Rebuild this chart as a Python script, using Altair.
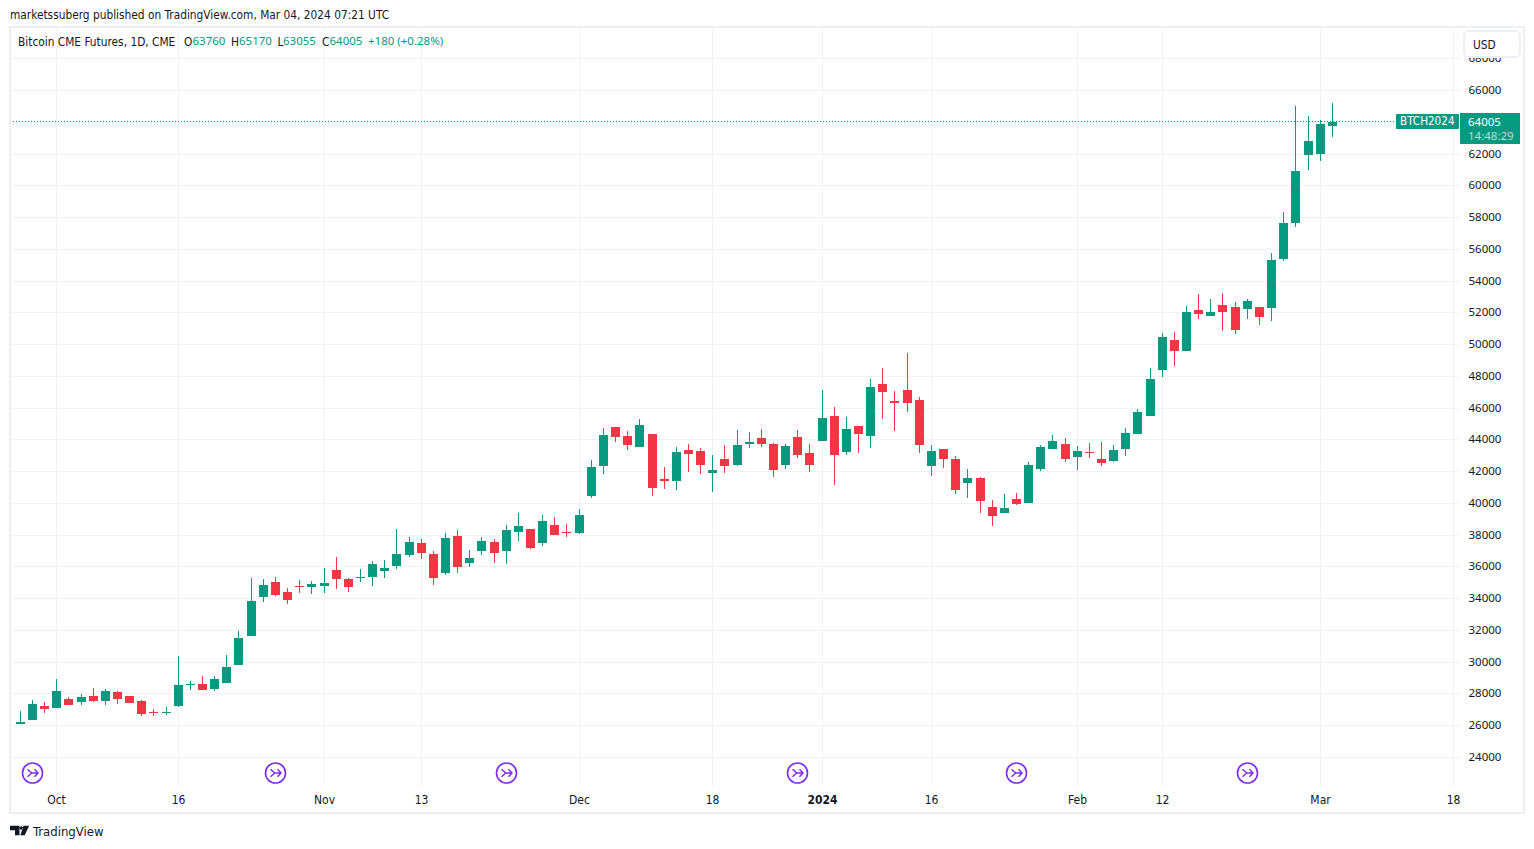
import altair as alt
import pandas as pd

FONT = "DejaVu Sans Condensed"
NUM_FONT = "Noto Sans"
GREEN = "#089981"
RED = "#F23645"
INK = "#131722"

bar_index = list(range(-1, 109))
opens = [26290,26102,26354,27236,27110,27677,27488,27866,27551,28118,27866,27551,26816,26795,27236,28559,28622,28307,28685,29819,31646,34103,35048,34418,34796,34733,34796,35804,35237,35300,35363,35741,36056,36749,37505,36812,35615,37946,36245,37001,37568,36998,38195,38384,37502,38636,38195,38132,40463,42353,44810,44243,43550,44369,41534,41408,43361,43298,41912,42794,42416,43737,44115,43737,42414,44178,43170,43926,45501,43233,44871,44241,47517,46446,47139,46509,42351,43422,42792,41280,41595,39768,39390,40272,40020,42162,43422,43737,42918,43233,42792,42666,43422,44367,45501,48391,50281,49588,52171,51793,52486,52360,52234,52360,52297,55384,57652,61936,61999,63760]
highs = [26300,26921,27614,27488,28937,27803,27992,28370,28307,28181,27866,27614,27047,27173,30386,28811,29126,29126,30449,31961,35300,35237,35363,34670,35174,35111,35930,36623,35300,35867,36371,36434,38387,37883,37757,37001,38135,38324,37064,37883,37757,38636,39392,38384,39266,39140,38699,39644,42731,44747,44810,44558,45314,44369,42290,43550,43739,43487,43046,43676,44621,44493,44682,43800,43737,44619,43737,47139,46068,45438,44871,47832,48525,47076,49470,46698,43674,43422,42981,42162,41658,40209,40587,40650,42603,43674,44304,44115,43611,43800,43863,43674,44745,45942,48525,50722,50785,52423,53179,52864,53242,52675,52864,52360,55762,58345,65023,64393,64141,65170]
lows = [26260,26102,26354,26795,27110,27299,27299,27488,27299,27362,27425,26606,26606,26669,27173,28244,28244,28181,28685,29819,31646,33788,34166,33662,34355,34292,34355,34607,34418,35048,34796,35300,35867,36623,36497,34859,35489,35615,35993,36749,36245,36179,37628,37124,37313,38006,37880,38069,40337,41849,43865,43361,43550,40463,40904,40841,41975,41849,40715,41912,42353,43485,43548,41658,42162,42855,41973,43926,41154,43044,43170,43485,45312,44556,45753,43170,41721,42225,40587,40335,39390,38571,39390,39894,40020,42036,43422,42603,42099,42855,42351,42603,42981,44367,45501,47950,48643,49588,51604,51793,50848,50659,51604,51226,51478,55258,57400,60991,61558,63055]
closes = [26270,26228,27362,27047,28181,27299,27803,27551,28181,27677,27425,26732,26753,26858,28559,28622,28244,28937,29693,31520,33851,34859,34229,33914,34733,34922,34985,35237,34733,35363,36182,35930,36812,37568,36875,35300,37820,35993,36560,37631,36875,38321,38573,37187,38888,38006,38132,39266,42290,44306,44180,43676,44936,40967,41408,43235,43109,42416,42101,42353,43676,43863,43737,42099,43611,43044,42414,45375,43044,44682,44367,47328,47013,46320,46320,43674,43296,42792,40839,41595,40146,39201,39705,39957,42414,43548,43926,42792,43296,43170,42540,43359,44430,45753,47832,50470,49588,52045,51919,52045,52045,50911,52738,51730,55321,57652,60928,62818,63889,64005]

tick_values = [3, 13, 25, 33, 46, 57, 66, 75, 87, 94, 107, 118]
tick_labels = ["Oct", "16", "Nov", "13", "Dec", "18", "2024", "16", "Feb", "12", "Mar", "18"]
price_ticks = list(range(24000, 70000, 2000))
event_index = [1, 21, 40, 64, 82, 101]
last_price = 64005

df = pd.DataFrame({"i": bar_index, "o": opens, "h": highs, "l": lows, "c": closes})
df["top"] = df[["o", "c"]].max(axis=1)
df["bot"] = df[["o", "c"]].min(axis=1)

xscale = alt.Scale(domain=[-0.807, 118.471], nice=False, zero=False, round=True)
yscale = alt.Scale(domain=[22174, 69967], nice=False, zero=False, round=True)

label_expr = "{" + ",".join(f"'{v}':'{t}'" for v, t in zip(tick_values, tick_labels)) + "}[datum.value]"
x_axis = alt.Axis(values=tick_values, labelExpr=label_expr, title=None, domain=False, ticks=False,
                  grid=True, gridColor="#f2f2f3", gridWidth=1, labelColor=INK, labelFont=FONT,
                  labelFontSize=12, labelPadding=8, labelOverlap=False, labelFlush=False,
                  labelFontWeight={"expr": "datum.value == 66 ? 'bold' : 'normal'"})
y_axis = alt.Axis(values=price_ticks, format="d", title=None, orient="right", domain=False, ticks=False,
                  grid=True, gridColor="#f2f2f3", gridWidth=1, labelColor=INK, labelFont=NUM_FONT,
                  labelFontSize=11.5, labelPadding=9, labelOverlap=False)

X = alt.X("i:Q", scale=xscale, axis=x_axis)
color = alt.condition("datum.c >= datum.o", alt.value(GREEN), alt.value(RED))
base = alt.Chart(df)
wicks = base.mark_rule(strokeWidth=1, clip=True, xOffset=0.5).encode(
    x=X, y=alt.Y("l:Q", scale=yscale, axis=y_axis), y2="h:Q", color=color)
bodies = base.mark_rule(strokeWidth=9, clip=True, xOffset=0.5).encode(
    x=X, y=alt.Y("bot:Q", scale=yscale, axis=y_axis), y2="top:Q", color=color)

one = alt.Data(values=[{"k": 1}])


def label(text, x, y, col=INK, size=11.8, font=FONT):
    return alt.Chart(one).mark_text(text=text, align="left", baseline="middle", font=font, fontSize=size,
                                    color=col).encode(
        x=alt.value(x - 10), y=alt.value(y - 27))


def num(text, x, y, col=GREEN):
    return label(text, x, y, col=col, size=11.5, font=NUM_FONT)


def box(x0, y0, x1, y1, fill=None, stroke=None, radius=0, width=1):
    kw = {"fill": fill if fill else "transparent", "cornerRadius": radius}
    if stroke:
        kw.update(stroke=stroke, strokeWidth=width)
    return alt.Chart(one).mark_rect(**kw).encode(
        x=alt.value(x0 - 10), x2=alt.value(x1 - 10), y=alt.value(y0 - 27), y2=alt.value(y1 - 27))


last_df = pd.DataFrame({"p": [last_price]})
last_line = alt.Chart(last_df).mark_rule(color=GREEN, strokeWidth=1, strokeDash=[1, 2], yOffset=-0.5).encode(
    y=alt.Y("p:Q", scale=yscale, axis=y_axis), x=alt.value(0), x2=alt.value(1386))

ev = pd.DataFrame({"i": event_index})
ARROW = "M-0.5,-0.38L-0.08,0L-0.5,0.38M-0.08,0L0.55,0M0.2,-0.38L0.55,0L0.2,0.38"
ev_circle = alt.Chart(ev).mark_point(shape="circle", size=400, color="#7B2CF5", filled=False, strokeWidth=1.6,
                                     opacity=1, xOffset=0.5).encode(x=X, y=alt.value(773 - 27))
ev_arrow = alt.Chart(ev).mark_point(shape=ARROW, size=400, color="#7B2CF5", filled=False, strokeWidth=1.5,
                                    opacity=1, xOffset=0.5).encode(x=X, y=alt.value(773 - 27))

LOGO = ("M-0.95,-0.47L0,-0.47L0,0.47L-0.45,0.47L-0.45,-0.02L-0.95,-0.02Z"
        "M0.02,-0.25A0.17,0.17 0 1 0 0.36,-0.25A0.17,0.17 0 1 0 0.02,-0.25Z"
        "M0.4,-0.47L0.97,-0.47L0.52,0.47L0.08,0.47Z")
logo = alt.Chart(one).mark_point(shape=LOGO, size=400, fill="#131722", stroke=None, filled=True, opacity=1).encode(
    x=alt.value(19.5 - 10), y=alt.value(830.5 - 27))

layers = [
    wicks, bodies, last_line, ev_circle, ev_arrow,
    box(10, 27, 1524, 813, stroke="#eeeff4", width=2),
    box(1396, 114, 1459, 129, fill=GREEN, radius=1),
    box(1460, 113, 1520, 144, fill=GREEN),
    label("BTCH2024", 1400, 122, col="#ffffff", size=11.6),
    num("64005", 1468, 122.5, col="#ffffff"),
    num("14:48:29", 1468, 137, col="#b5e0d6"),
    box(1464, 31, 1520, 57, fill="#ffffff", stroke="#eeeff4", radius=5, width=2),
    label("USD", 1473, 44.5),
    label("marketssuberg published on TradingView.com, Mar 04, 2024 07:21 UTC", 10, 14.5),
    label("Bitcoin CME Futures, 1D, CME", 18, 42),
    label("O", 184, 42), num("63760", 192.5, 42),
    label("H", 231, 42), num("65170", 239, 42),
    label("L", 277.5, 42), num("63055", 283, 42),
    label("C", 322, 42), num("64005", 329.5, 42),
    num("+180 (+0.28%)", 368, 42),
    logo,
    label("TradingView", 33, 831.5, size=13),
]

chart = alt.layer(*layers).properties(
    width=1449, height=759,
    autosize=alt.AutoSizeParams(type="none"),
    padding={"left": 2, "top": 19, "right": 67, "bottom": 53},
    background="#ffffff",
).configure_view(stroke=None)

chart.save("out.html", embed_options={"renderer": "svg", "actions": False})
